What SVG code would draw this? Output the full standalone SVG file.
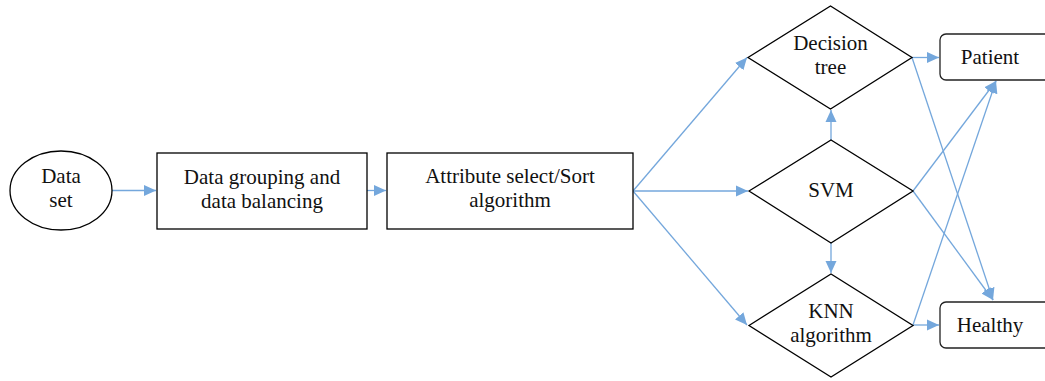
<svg xmlns="http://www.w3.org/2000/svg" width="1045" height="381" viewBox="0 0 1045 381">
<style>
.shape{fill:#fff;stroke:#000;stroke-width:1.3}
.term{fill:#fff;stroke:#222;stroke-width:1.3}
.lbl{font-family:"Liberation Serif","Times New Roman",serif;font-size:21px;fill:#111;text-anchor:middle}
.conn{stroke:#74a7dc;stroke-width:1.3;fill:none}
</style>
<defs>
<marker id="ah" markerUnits="userSpaceOnUse" markerWidth="14" markerHeight="14" viewBox="0 0 14 14" refX="12" refY="7" orient="auto">
<path d="M0,1.5 L12,7 L0,12.5 Z" fill="#74a7dc"/>
</marker>
</defs>
<rect width="1045" height="381" fill="#fff"/>
<g id="connectors">
<line class="conn" x1="112" y1="190.5" x2="156" y2="190.5" marker-end="url(#ah)"/>
<line class="conn" x1="367" y1="190.5" x2="386" y2="190.5" marker-end="url(#ah)"/>
<line class="conn" x1="633" y1="191" x2="747" y2="57.5" marker-end="url(#ah)"/>
<line class="conn" x1="633" y1="191" x2="748" y2="191" marker-end="url(#ah)"/>
<line class="conn" x1="633" y1="191" x2="747" y2="325" marker-end="url(#ah)"/>
<line class="conn" x1="831" y1="141" x2="831" y2="110" marker-end="url(#ah)"/>
<line class="conn" x1="831" y1="243" x2="831" y2="273" marker-end="url(#ah)"/>
<line class="conn" x1="912" y1="57.5" x2="939" y2="57.5" marker-end="url(#ah)"/>
<line class="conn" x1="912" y1="57.5" x2="993" y2="300" marker-end="url(#ah)"/>
<line class="conn" x1="913" y1="191" x2="996" y2="81" marker-end="url(#ah)"/>
<line class="conn" x1="913" y1="191" x2="993" y2="300" marker-end="url(#ah)"/>
<line class="conn" x1="913" y1="325" x2="996" y2="81" marker-end="url(#ah)"/>
<line class="conn" x1="913" y1="325" x2="939" y2="325" marker-end="url(#ah)"/>
</g>
<g id="dataset">
<ellipse class="shape" cx="61" cy="190.5" rx="51" ry="39.5"/>
<text class="lbl" x="61" y="183">Data</text>
<text class="lbl" x="61" y="207">set</text>
</g>
<g id="grouping">
<rect class="shape" x="157" y="153" width="210" height="76"/>
<text class="lbl" x="262" y="184">Data grouping and</text>
<text class="lbl" x="262" y="208">data balancing</text>
</g>
<g id="attribute">
<rect class="shape" x="387" y="153" width="246" height="76"/>
<text class="lbl" x="510" y="183">Attribute select/Sort</text>
<text class="lbl" x="510" y="207">algorithm</text>
</g>
<g id="decisiontree">
<polygon class="shape" points="748,57.5 830.5,6 912,57.5 830.5,109"/>
<text class="lbl" x="830.5" y="50">Decision</text>
<text class="lbl" x="830.5" y="74">tree</text>
</g>
<g id="svm">
<polygon class="shape" points="749,191 831,140 913,191 831,243"/>
<text class="lbl" x="831" y="197">SVM</text>
</g>
<g id="knn">
<polygon class="shape" points="749,325.5 831,274 913,325.5 831,377"/>
<text class="lbl" x="831" y="318">KNN</text>
<text class="lbl" x="831" y="342">algorithm</text>
</g>
<g id="patient">
<rect class="term" x="940" y="34" width="112" height="46" rx="6"/>
<text class="lbl" x="990" y="64">Patient</text>
</g>
<g id="healthy">
<rect class="term" x="940" y="302" width="112" height="46" rx="6"/>
<text class="lbl" x="990" y="332">Healthy</text>
</g>
</svg>
